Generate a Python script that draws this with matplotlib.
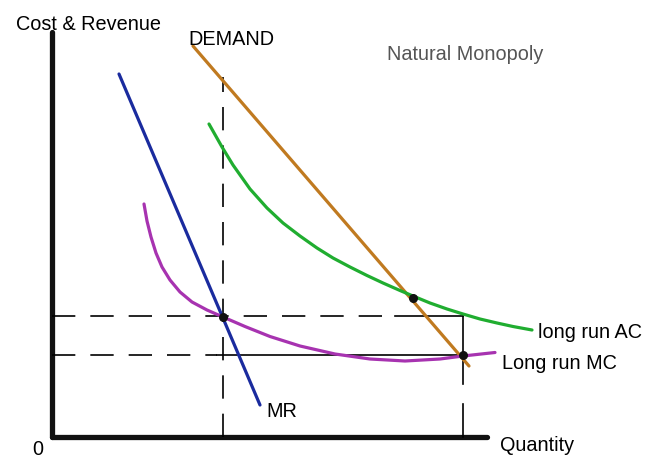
import matplotlib.pyplot as plt

plt.rcParams['font.family'] = ['Liberation Sans', 'DejaVu Sans']

# kurvor i (kvantitet, pris) med origo i axelkorset
demand_q = [141, 417]
demand_p = [391, 71]

mr_q = [67, 208]
mr_p = [363, 32]

ac_q = [157, 170, 181, 198, 215, 231, 248, 265, 281, 298, 315, 331, 348, 361, 378, 395, 411, 428, 445, 461, 480]
ac_p = [313, 290, 272, 248, 229, 214, 201, 189, 179, 170, 161.5, 154, 146.5, 141, 134, 128, 123, 118, 114, 110.5, 107]

mc_q = [92, 95, 99, 104, 110, 118, 128, 140, 155, 171, 193, 218, 248, 283, 318, 353, 388, 411, 443]
mc_p = [233, 216, 200, 184, 170, 157, 145, 135, 127, 120, 110.5, 100.5, 91, 83, 78, 76, 78, 81, 84.5]

# jämviktspunkter
dots_q = [171, 361, 411]
dots_p = [120, 139, 82]

q_mono = 171
q_eff = 411
p_upper = 121
p_lower = 82

fig = plt.figure(figsize=(6.46, 4.77), dpi=100)
ax = fig.add_axes([0, 0, 1, 1])
ax.set_xlim(-52, 594)
ax.set_ylim(-39, 438)
ax.axis('off')

# axlar
ax.plot([0, 0], [0, 405], color='#111111', lw=3.8, solid_capstyle='round')
ax.plot([0, 435], [0, 0], color='#111111', lw=3.8, solid_capstyle='round')

# hjälplinjer
dash = dict(color='black', lw=1.2, dashes=(14, 9))
ax.plot([0, 343], [p_upper, p_upper], **dash)
ax.plot([343, q_eff], [p_upper, p_upper], color='black', lw=1.2)
ax.plot([0, 165], [p_lower, p_lower], **dash)
ax.plot([165, q_eff], [p_lower, p_lower], color='black', lw=1.2)
ax.plot([q_mono, q_mono], [0, 360], **dash)
ax.plot([q_eff, q_eff], [p_upper, 53], color='black', lw=1.2)
ax.plot([q_eff, q_eff], [33, 0], color='black', lw=1.2)

# kurvor
ax.plot(demand_q, demand_p, color='#c07a20', lw=2.3, solid_capstyle='round')
ax.plot(mr_q, mr_p, color='#1a2b9e', lw=2.3, solid_capstyle='round')
ax.plot(ac_q, ac_p, color='#20ad30', lw=2.3, solid_capstyle='round', solid_joinstyle='round')
ax.plot(mc_q, mc_p, color='#a733b0', lw=2.3, solid_capstyle='round', solid_joinstyle='round')

ax.scatter(dots_q, dots_p, s=30, color='#111111', zorder=5)

# texter
fs = 14.3
ax.text(-36, 408, 'Cost & Revenue', fontsize=fs, va='baseline')
ax.text(136, 393, 'DEMAND', fontsize=fs, va='baseline')
ax.text(335, 378, 'Natural Monopoly', fontsize=fs, va='baseline', color='#555555')
ax.text(486, 100, 'long run AC', fontsize=fs, va='baseline')
ax.text(450, 69, 'Long run MC', fontsize=fs, va='baseline')
ax.text(214, 21, 'MR', fontsize=fs, va='baseline')
ax.text(448, -13, 'Quantity', fontsize=fs, va='baseline')
ax.text(-20, -17, '0', fontsize=fs, va='baseline')

plt.savefig('out.png', dpi=100)
